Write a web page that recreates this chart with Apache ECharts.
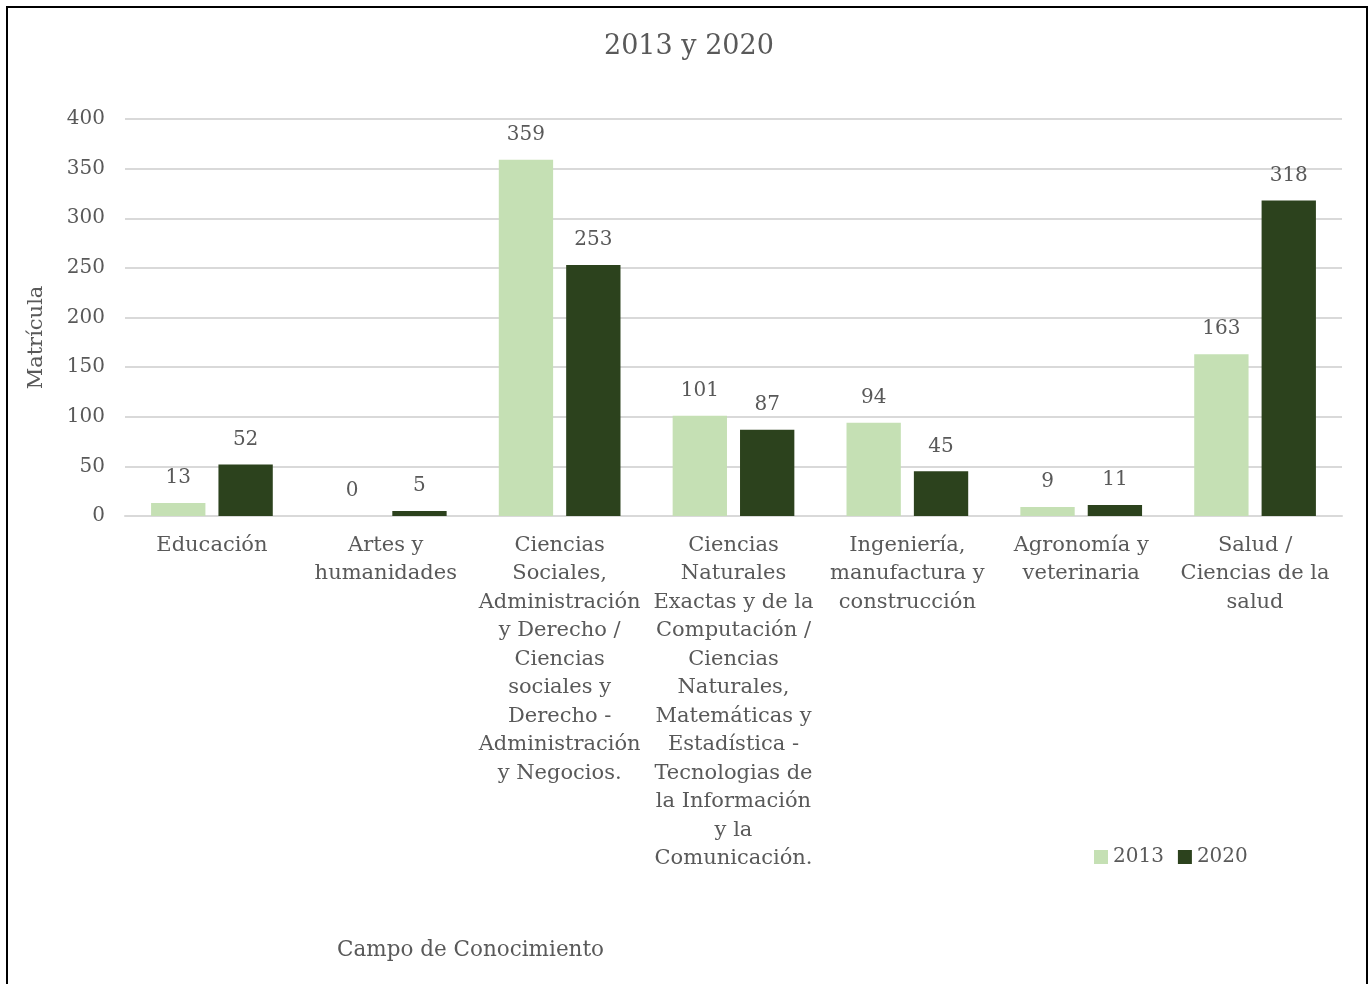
<!DOCTYPE html>
<html><head><meta charset="utf-8">
<script src="https://cdn.jsdelivr.net/npm/echarts@6/dist/echarts.min.js"></script>
<style>html,body{margin:0;padding:0;background:#fff}#c{width:1370px;height:984px}</style>
</head><body><div id="c"></div>
<script>
const categories = [
  'Educación',
  'Artes y\nhumanidades',
  'Ciencias\nSociales,\nAdministración\ny Derecho /\nCiencias\nsociales y\nDerecho -\nAdministración\ny Negocios.',
  'Ciencias\nNaturales\nExactas y de la\nComputación /\nCiencias\nNaturales,\nMatemáticas y\nEstadística -\nTecnologias de\nla Información\ny la\nComunicación.',
  'Ingeniería,\nmanufactura y\nconstrucción',
  'Agronomía y\nveterinaria',
  'Salud /\nCiencias de la\nsalud'
];
const values2013 = [13, 0, 359, 101, 94, 9, 163];
const values2020 = [52, 5, 253, 87, 45, 11, 318];
const seriesNames = ['2013', '2020'];

const FONT = '"DejaVu Serif", serif';
const GRAY = '#595959';
const chart = echarts.init(document.getElementById('c'));
const lbl = {show: true, position: 'top', distance: 15, color: GRAY, fontFamily: FONT, fontSize: 20};
chart.setOption({
  animation: false,
  title: {text: '2013 y 2020', left: 599, top: 28, textStyle: {fontFamily: FONT, fontSize: 27, fontWeight: 'normal', color: GRAY}},
  legend: {data: seriesNames, left: 1089, top: 842, icon: 'rect', itemWidth: 14, itemHeight: 14, itemGap: 14,
    textStyle: {fontFamily: FONT, fontSize: 20, color: GRAY}},
  grid: {left: 125, right: 28, top: 119, bottom: 468, containLabel: false},
  xAxis: {type: 'category', data: categories,
    axisLine: {lineStyle: {color: '#d9d9d9', width: 2}}, axisTick: {show: false},
    axisLabel: {interval: 0, margin: 15, color: GRAY, fontFamily: FONT, fontSize: 21, lineHeight: 28.5, align: 'center'}},
  yAxis: {type: 'value', min: 0, max: 400, interval: 50,
    name: 'Matrícula', nameLocation: 'middle', nameGap: 78,
    nameTextStyle: {fontFamily: FONT, fontSize: 21, color: GRAY, padding: [0, 40, 0, 0]},
    axisLine: {show: false}, axisTick: {show: false},
    axisLabel: {margin: 20, color: GRAY, fontFamily: FONT, fontSize: 20},
    splitLine: {lineStyle: {color: '#d9d9d9', width: 2}}},
  graphic: [
    {type: 'rect', shape: {x: 7, y: 7, width: 1360, height: 1000}, style: {fill: 'none', stroke: '#000', lineWidth: 2}, silent: true},
    {type: 'text', left: 337, top: 939, style: {text: 'Campo de Conocimiento', font: '21.5px ' + FONT, fill: GRAY}}
  ],
  series: [
    {name: seriesNames[0], type: 'bar', data: values2013, barGap: '24%', barCategoryGap: '30%', itemStyle: {color: '#c5e0b4'}, label: lbl},
    {name: seriesNames[1], type: 'bar', data: values2020, itemStyle: {color: '#2c421d'}, label: lbl}
  ]
});
</script></body></html>
